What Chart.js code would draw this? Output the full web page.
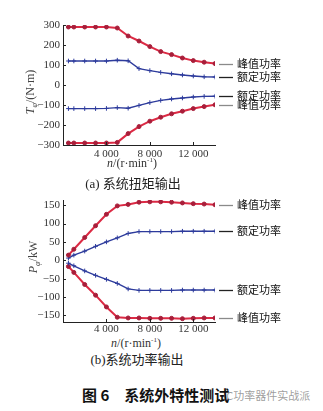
<!DOCTYPE html>
<html><head><meta charset="utf-8">
<script src="https://cdn.jsdelivr.net/npm/chart.js@4.4.0/dist/chart.umd.min.js"></script>
<style>
html,body{margin:0;padding:0;background:#fff;}
#root{position:relative;width:323px;height:411px;overflow:hidden;background:#fff;}
canvas{position:absolute;left:0;}
.t{position:absolute;white-space:nowrap;color:#222;line-height:1;}
.serif{font-family:"Liberation Serif","Noto Sans CJK SC",serif;}
.ytitle{transform:translate(-50%,-50%) rotate(-90deg);}
.center{transform:translate(-50%,-50%);}
sub{vertical-align:-3px;line-height:0;}
</style></head><body><div id="root">
<canvas id="ca" width="323" height="160" style="top:0"></canvas>
<canvas id="cb" width="323" height="160" style="top:176px"></canvas>

<div class="t serif ytitle" style="left:30px;top:92px;font-size:12px;color:#444"><i>T</i><sub style="font-size:8px"><i>φ</i></sub>/(N·m)</div>
<div class="t serif center" style="left:132px;top:163px;font-size:12px;color:#333"><i>n</i>/(r·min<sup style="font-size:7px">-1</sup>)</div>
<div class="t serif center" style="left:133px;top:183px;font-size:13px;color:#222">(a) 系统扭矩输出</div>

<div class="t serif ytitle" style="left:33px;top:257px;font-size:12px;color:#444"><i>P</i><sub style="font-size:8px"><i>φ</i></sub>/kW</div>
<div class="t serif center" style="left:136px;top:343px;font-size:12px;color:#333"><i>n</i>/(r·min<sup style="font-size:7px">-1</sup>)</div>
<div class="t serif center" style="left:137px;top:359px;font-size:13px;color:#222">(b)系统功率输出</div>

<div class="t" style="left:223px;top:390px;font-family:'Noto Sans CJK SC',sans-serif;font-size:11px;color:rgba(140,140,140,0.85)">IC功率器件实战派</div>
<div class="t" style="left:82px;top:387px;font-family:'Noto Sans CJK SC',sans-serif;font-size:15px;font-weight:bold;color:#111">图 6<span style="display:inline-block;width:15px"></span>系统外特性测试</div>
</div>
<script>
// ---- data ----
const speed = [500,1000,2000,3000,4000,5000,6000,7000,8000,9000,10000,11000,12000,13000,14000];

const torquePeakMotor  = [290,290,290,290,290,285,245,220,192,167,152,135,122,114,107];
const torqueRatedMotor = [120,120,120,120,120,124,121,82,72,63,56,50,45,41,40];
const torqueRatedGen   = [-118,-118,-118,-118,-117,-113,-116,-102,-88,-77,-70,-65,-60,-57,-56];
const torquePeakGen    = [-290,-290,-290,-290,-290,-287,-243,-208,-181,-161,-144,-131,-118,-108,-99];

const powerPeakMotor  = [14,30,62,94,125,148,152,158,159,159,158,156,154,153,151];
const powerRatedMotor = [6,14,25,38,50,61,73,78,78,78,78,79,79,79,79];
const powerRatedGen   = [-8,-15,-29,-41,-52,-63,-78,-82,-82,-82,-82,-81,-81,-81,-81];
const powerPeakGen    = [-17,-33,-66,-95,-127,-155,-157,-157,-158,-158,-158,-159,-158,-157,-157];

const seriesPeak = '峰值功率';
const seriesRated = '额定功率';

const xTickValues = [4000,8000,12000];
const xTickLabels = ['4 000','8 000','12 000'];
const yTicksA = [-300,-200,-100,0,100,200,300];
const yTickLabelsA = ['−300','−200','−100','0','100','200','300'];
const yTicksB = [-150,-100,-50,0,50,100,150];
const yTickLabelsB = ['−150','−100','−50','0','50','100','150'];

// ---- styling ----
const RED = '#dc2a44', REDPT = '#a81e3a', BLUE = '#2d3b9c';

function pts(vals){ return speed.map((s,i)=>({x:s,y:vals[i]})); }
function peakDs(vals){ return {label:seriesPeak, data:pts(vals), borderColor:RED, borderWidth:2,
  pointRadius:2, pointBackgroundColor:REDPT, pointBorderColor:REDPT, pointBorderWidth:1, pointStyle:'circle', tension:0, labelDash:'#8a8a8a'}; }
function ratedDs(vals){ return {label:seriesRated, data:pts(vals), borderColor:BLUE, borderWidth:1.4,
  pointRadius:2.3, pointBorderColor:BLUE, pointBorderWidth:1, pointStyle:'cross', tension:0, labelDash:'#222'}; }

const sidePlugin = {
  id:'side',
  afterDatasetsDraw(chart){
    const ctx = chart.ctx, ca = chart.chartArea;
    const xs = chart.scales.x, ys = chart.scales.y;
    ctx.save();
    ctx.strokeStyle = '#222'; ctx.lineWidth = 1;
    xs.ticks.forEach(t=>{ const px = Math.round(xs.getPixelForValue(t.value))+0.5;
      ctx.beginPath(); ctx.moveTo(px, ca.bottom); ctx.lineTo(px, ca.bottom-3); ctx.stroke(); });
    ys.ticks.forEach(t=>{ const py = Math.round(ys.getPixelForValue(t.value))+0.5;
      ctx.beginPath(); ctx.moveTo(ca.left, py); ctx.lineTo(ca.left+3, py); ctx.stroke(); });
    chart.data.datasets.forEach((ds,i)=>{
      const meta = chart.getDatasetMeta(i);
      const p = meta.data[meta.data.length-1];
      const y = Math.round(p.y)+0.5;
      ctx.strokeStyle = ds.labelDash; ctx.lineWidth = 1.3;
      ctx.beginPath(); ctx.moveTo(ca.right+4, y); ctx.lineTo(ca.right+18, y); ctx.stroke();
      ctx.fillStyle = '#111'; ctx.font = '11px "Noto Sans CJK SC"';
      ctx.textBaseline = 'middle'; ctx.textAlign = 'left';
      ctx.fillText(ds.label, ca.right+22, p.y);
    });
    ctx.restore();
  }
};

function makeChart(id, datasets, yMin, yMax, yTicks, yLabels, xPad, topPad, xH){
  return new Chart(document.getElementById(id), {
    type:'line',
    data:{datasets},
    options:{
      responsive:false, animation:false, devicePixelRatio:1,
      layout:{padding:{left:0, right:108, top:topPad, bottom:0}},
      plugins:{legend:{display:false}, tooltip:{enabled:false}},
      scales:{
        x:{type:'linear', min:0, max:14000,
          afterBuildTicks:s=>{ s.ticks = xTickValues.map(v=>({value:v})); },
          afterFit:s=>{ s.height = xH; },
          grid:{display:false, drawTicks:false, tickLength:0},
          border:{display:true, color:'#222', width:1},
          ticks:{padding:xPad, maxRotation:0, autoSkip:false, color:'#333',
            font:{family:'Liberation Serif', size:11},
            callback:(v)=>{ const i = xTickValues.indexOf(v); return i>=0 ? xTickLabels[i] : ''; }}
        },
        y:{type:'linear', min:yMin, max:yMax,
          afterBuildTicks:s=>{ s.ticks = yTicks.map(v=>({value:v})); },
          afterFit:s=>{ s.width = 63; },
          grid:{display:false, drawTicks:false, tickLength:0},
          border:{display:true, color:'#222', width:1},
          ticks:{padding:3, autoSkip:false, color:'#333',
            font:{family:'Liberation Serif', size:11},
            callback:(v)=>{ const i = yTicks.indexOf(v); return i>=0 ? yLabels[i] : ''; }}
        }
      }
    },
    plugins:[sidePlugin]
  });
}

makeChart('ca', [peakDs(torquePeakMotor), ratedDs(torqueRatedMotor), ratedDs(torqueRatedGen), peakDs(torquePeakGen)],
  -300, 300, yTicksA, yTickLabelsA, 3, 25, 15);
makeChart('cb', [peakDs(powerPeakMotor), ratedDs(powerRatedMotor), ratedDs(powerRatedGen), peakDs(powerPeakGen)],
  -168, 164, yTicksB, yTickLabelsB, 1, 24, 14);
</script>
</body></html>
